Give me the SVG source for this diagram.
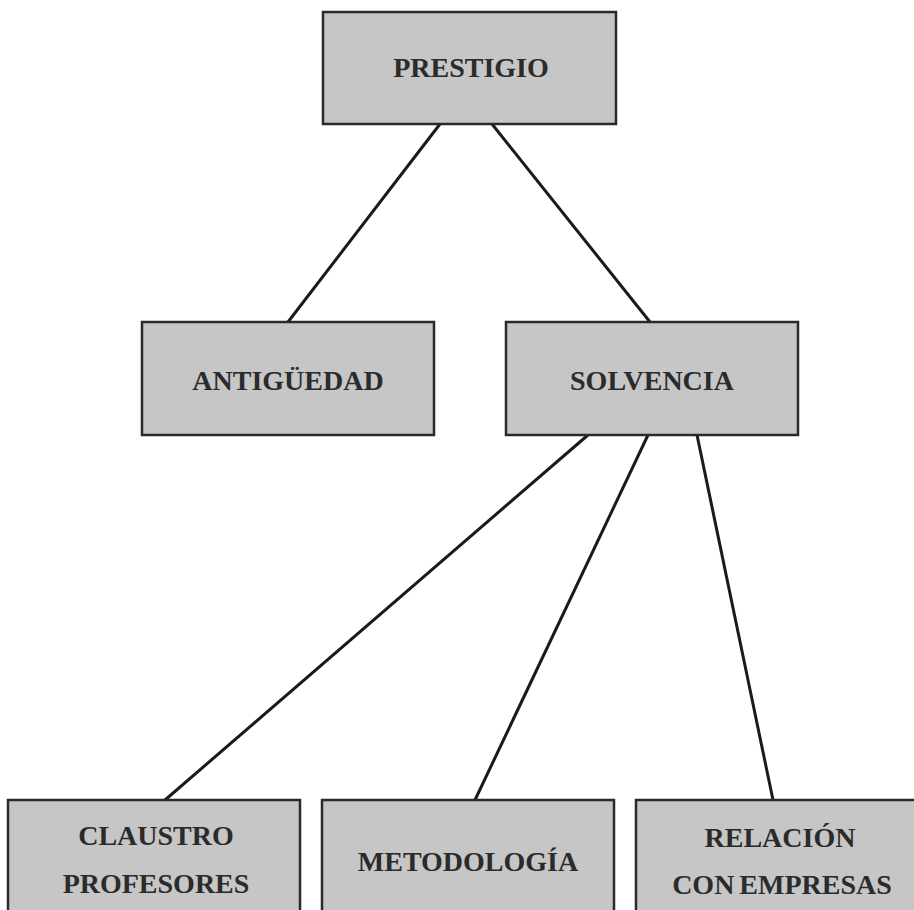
<svg xmlns="http://www.w3.org/2000/svg" width="914" height="910" viewBox="0 0 914 910">
<style>
.box{fill:#c6c6c6;stroke:#2a2a2a;stroke-width:2.5}
.t{font-family:"Liberation Serif","Times New Roman",serif;font-weight:bold;font-size:28px;fill:#2b2b2b;text-anchor:middle}
.c{stroke:#1a1a1a;stroke-width:3;fill:none}
</style>
<rect width="914" height="910" fill="#ffffff"/>
<g id="connectors">
<line class="c" x1="440" y1="124" x2="288" y2="322"/>
<line class="c" x1="492" y1="124" x2="650" y2="322"/>
<line class="c" x1="588" y1="435" x2="165" y2="800"/>
<line class="c" x1="648" y1="435" x2="475" y2="800"/>
<line class="c" x1="697" y1="435" x2="773" y2="800"/>
</g>
<g id="prestigio"><rect class="box" x="323" y="12" width="293" height="112"/><text class="t" x="471" y="77">PRESTIGIO</text></g>
<g id="antiguedad"><rect class="box" x="142" y="322" width="292" height="113"/><text class="t" x="288" y="390">ANTIGÜEDAD</text></g>
<g id="solvencia"><rect class="box" x="506" y="322" width="292" height="113"/><text class="t" x="652" y="390">SOLVENCIA</text></g>
<g id="claustro"><rect class="box" x="8" y="800" width="292" height="120"/><text class="t" x="156" y="845">CLAUSTRO</text><text class="t" x="156" y="893">PROFESORES</text></g>
<g id="metodologia"><rect class="box" x="322" y="800" width="292" height="120"/><text class="t" x="468" y="871">METODOLOGÍA</text></g>
<g id="relacion"><rect class="box" x="636" y="800" width="292" height="120"/><text class="t" x="780" y="847">RELACIÓN</text><text class="t" x="782" y="894" word-spacing="-2">CON EMPRESAS</text></g>
</svg>
